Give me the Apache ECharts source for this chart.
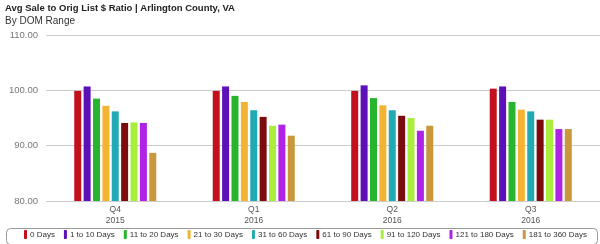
<!DOCTYPE html>
<html><head><meta charset="utf-8">
<script src="https://cdn.jsdelivr.net/npm/echarts@6/dist/echarts.min.js"></script>
<style>html,body{margin:0;padding:0;background:#fff}#c{width:600px;height:244px}</style>
</head><body><div id="c"></div>
<script>
const categories = ['Q4\n2015', 'Q1\n2016', 'Q2\n2016', 'Q3\n2016'];
const seriesNames = ['0 Days', '1 to 10 Days', '11 to 20 Days', '21 to 30 Days', '31 to 60 Days', '61 to 90 Days', '91 to 120 Days', '121 to 180 Days', '181 to 360 Days'];
const d0 = [99.9, 99.9, 99.9, 100.3];
const d1_10 = [100.7, 100.7, 100.9, 100.7];
const d11_20 = [98.5, 99.0, 98.6, 97.9];
const d21_30 = [97.2, 97.9, 97.3, 96.5];
const d31_60 = [96.2, 96.4, 96.4, 96.2];
const d61_90 = [94.1, 95.2, 95.4, 94.7];
const d91_120 = [94.2, 93.6, 95.0, 94.7];
const d121_180 = [94.1, 93.8, 92.7, 93.0];
const d181_360 = [88.7, 91.8, 93.6, 93.0];
const colors = ['#c2101c', '#5b10b8', '#26b52c', '#f2b432', '#22aab4', '#7c0b0d', '#a9ee3c', '#b022e6', '#c9973c'];
const yTicks = [80, 90, 100, 110];

const allData = [d0, d1_10, d11_20, d21_30, d31_60, d61_90, d91_120, d121_180, d181_360];
const FONT = 'Liberation Sans';
const chart = echarts.init(document.getElementById('c'));
chart.setOption({
  animation: false,
  title: {
    text: 'Avg Sale to Orig List $ Ratio | Arlington County, VA',
    subtext: 'By DOM Range',
    left: 3, top: 1, itemGap: 3, padding: [2, 2],
    textStyle: {fontFamily: FONT, fontSize: 9.5, fontWeight: 'bold', color: '#222'},
    subtextStyle: {fontFamily: FONT, fontSize: 10, color: '#333'}
  },
  graphic: [{
    type: 'rect', left: 4, top: 226, shape: {width: 591, height: 16, r: 4},
    style: {fill: 'none', stroke: '#999', lineWidth: 1}, silent: true
  }],
  legend: {
    bottom: 5, left: 24, itemWidth: 3, itemHeight: 9, itemGap: 9,
    padding: 0,
    textStyle: {fontFamily: FONT, fontSize: 8, color: '#333', padding: [0, 0, 0, -2]},
    icon: 'roundRect',
    data: seriesNames
  },
  grid: {left: 46, right: -8, top: 35, bottom: 43},
  xAxis: {
    type: 'category', data: categories,
    axisLine: {show: false}, axisTick: {show: false},
    axisLabel: {fontFamily: FONT, fontSize: 8.5, color: '#555', lineHeight: 11, margin: 3}
  },
  yAxis: {
    type: 'value', min: 80, max: 110, interval: 10,
    axisLine: {show: false}, axisTick: {show: false},
    splitLine: {lineStyle: {color: '#ccc'}},
    axisLabel: {fontFamily: FONT, fontSize: 9.5, color: '#777', margin: 8,
      formatter: v => yTicks.includes(v) ? v.toFixed(2) : ''}
  },
  series: allData.map((d, i) => ({
    name: seriesNames[i], type: 'bar', data: d,
    barWidth: 7, barGap: '34%',
    itemStyle: {color: colors[i]}
  }))
});
</script></body></html>
